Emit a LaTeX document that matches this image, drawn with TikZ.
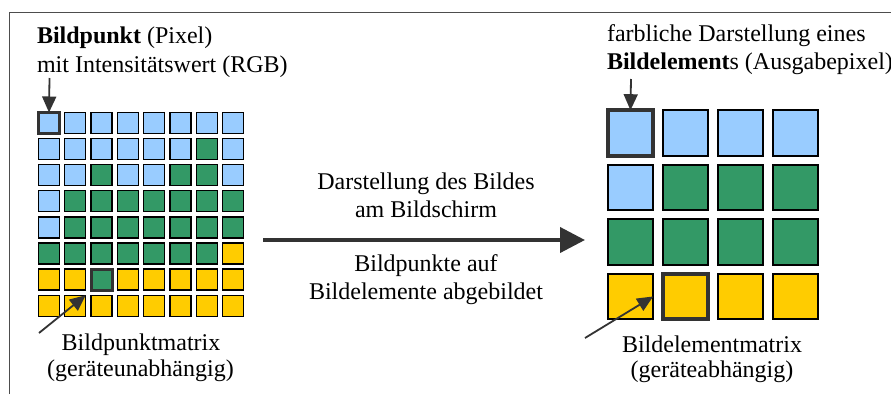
\documentclass[tikz,border=0pt]{standalone}
\usepackage{fontspec}
\setmainfont{Liberation Serif}
\usetikzlibrary{arrows.meta}
\definecolor{pxb}{HTML}{99CCFF}
\definecolor{pxg}{HTML}{339966}
\definecolor{pxy}{HTML}{FFCC00}
\definecolor{dk}{HTML}{333333}
\definecolor{framecol}{HTML}{4D4D4D}
\begin{document}
\begin{tikzpicture}[x=1pt,y=-1pt,
  txt/.style={font=\fontsize{24}{28}\selectfont, inner sep=0pt, outer sep=0pt},
  scell/.style={draw=black, line width=1.3pt, minimum size=21pt, inner sep=0pt, outer sep=0pt, anchor=north west},
  bcell/.style={draw=black, line width=1.6pt, minimum size=45.5pt, inner sep=0pt, outer sep=0pt, anchor=north west},
  shl/.style={draw=dk, line width=3pt},
  bhl/.style={draw=dk, line width=4pt},
  ptr/.style={draw=dk, line width=1.8pt, -{Triangle[length=16pt,width=14pt]}},
  bigptr/.style={draw=dk, line width=4pt, -{Triangle[length=25pt,width=25pt]}},
]
\useasboundingbox (0,0) rectangle (891,394);
\fill[white] (0,0) rectangle (891,394);
% frame
\draw[framecol, line width=1.8pt] (9.5,394) -- (9.5,12.5) -- (891,12.5);

% small grid (Bildpunktmatrix)
\foreach \row [count=\j] in {{b,b,b,b,b,b,b,b},{b,b,b,b,b,b,g,b},{b,b,g,b,b,g,g,b},{b,g,g,g,g,g,g,g},{b,g,g,g,g,g,g,g},{g,g,g,g,g,g,g,y},{y,y,g,y,y,y,y,y},{y,y,y,y,y,y,y,y}}{
  \foreach \cc [count=\i] in \row {
    \node[scell, fill=px\cc] (s\j-\i) at ({38.5+26.3*(\i-1)},{112.5+26.1*(\j-1)}) {};
  }
}
\draw[shl] (s1-1.north west) rectangle (s1-1.south east);
\draw[shl] (s7-3.north west) rectangle (s7-3.south east);

% big grid (Bildelementmatrix)
\foreach \row [count=\j] in {{b,b,b,b},{b,g,g,g},{g,g,g,g},{y,y,y,y}}{
  \foreach \cc [count=\i] in \row {
    \node[bcell, fill=px\cc] (b\j-\i) at ({607.7+55*(\i-1)},{110.2+54.5*(\j-1)}) {};
  }
}
\draw[bhl] (b1-1.north west) rectangle (b1-1.south east);
\draw[bhl] (b4-2.north west) rectangle (b4-2.south east);

% texts
\node[txt, anchor=base west] (t1) at (37,43) {\textbf{Bildpunkt} (Pixel)};
\node[txt, anchor=base west] (t2) at (37,72) {mit Intensitätswert (RGB)};
\node[txt, anchor=base west] (t3) at (607,41) {farbliche Darstellung eines};
\node[txt, anchor=base west] (t4) at (607,69) {\textbf{Bildelement}s (Ausgabepixel)};

\node[txt, anchor=base] (m1) at (426,189.5) {Darstellung des Bildes};
\node[txt, anchor=base] (m2) at (426,217.5) {am Bildschirm};
\node[txt, anchor=base] (m3) at (426,271.5) {Bildpunkte auf};
\node[txt, anchor=base] (m4) at (426,299) {Bildelemente abgebildet};

\node[txt, anchor=base] (l1) at (141,350.5) {Bildpunktmatrix};
\node[txt, anchor=base] (l2) at (140.5,376) {(geräteunabhängig)};
\node[txt, anchor=base] (r1) at (712,352) {Bildelementmatrix};
\node[txt, anchor=base] (r2) at (712,377) {(geräteabhängig)};

% pointers
\coordinate (pa) at (49.5,78);
\draw[ptr] (pa) -- (s1-1.north);
\coordinate (pb) at (39,333);
\draw[ptr] (pb) -- (s8-2.north east);
\coordinate (pc) at (631,79);
\draw[ptr] (pc) -- (b1-1.north);
\coordinate (pd) at (585,338);
\draw[ptr] (pd) -- (b4-1.east);

% main arrow
\coordinate (ma) at (263,240);
\coordinate (mb) at (585,240);
\draw[bigptr] (ma) -- (mb);
\end{tikzpicture}
\end{document}
